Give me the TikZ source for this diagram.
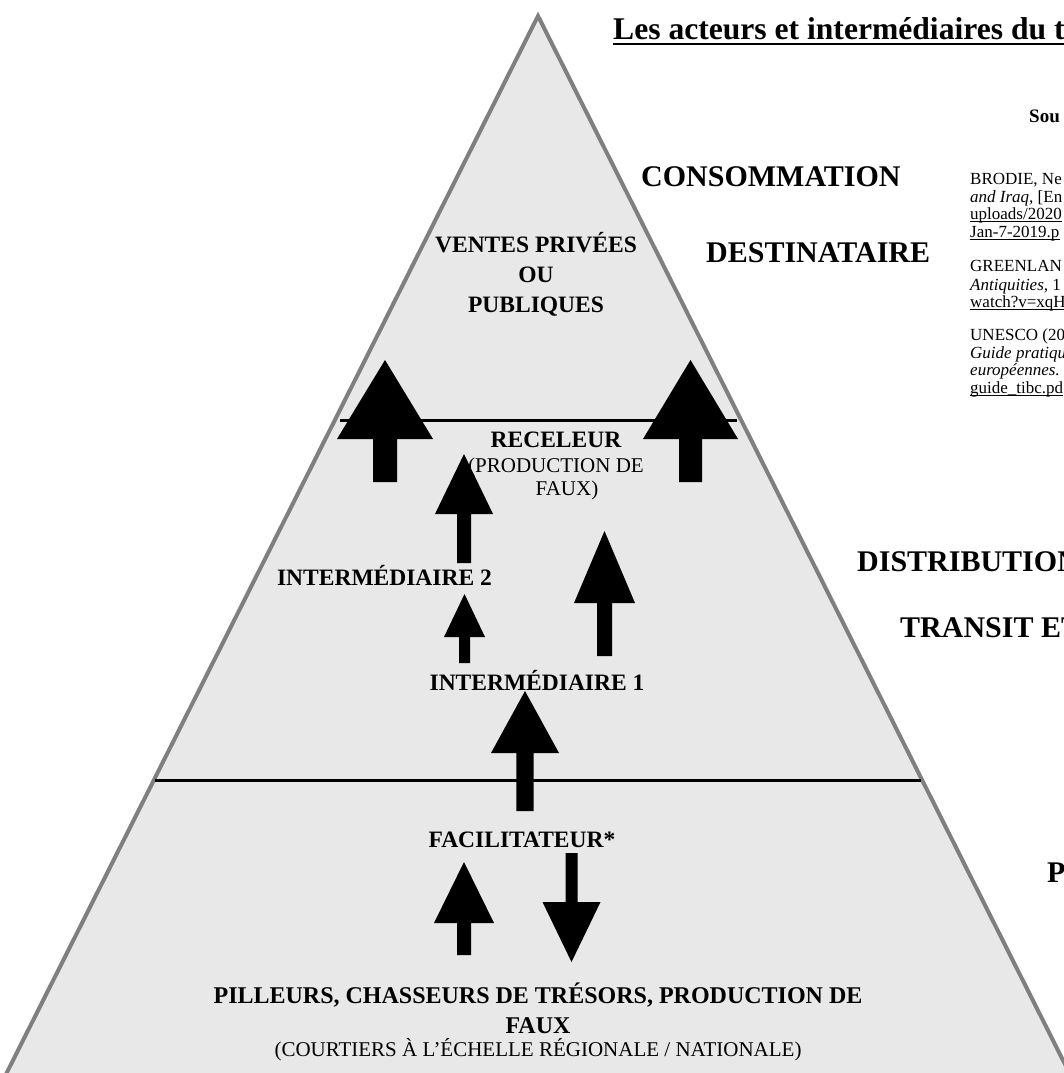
\documentclass[tikz,border=0pt]{standalone}
\usepackage{fontspec}
\setmainfont{Liberation Serif}
\definecolor{trifill}{HTML}{E8E8E8}
\definecolor{triedge}{HTML}{7F7F7F}
% block arrow: cx, tip y, head-base y, bottom y, head half width, shaft half width
\newcommand{\blockarrow}[6]{%
  \fill[blk] (#1,#2) -- ({#1+#5},#3) -- ({#1+#6},#3) -- ({#1+#6},#4) --
    ({#1-#6},#4) -- ({#1-#6},#3) -- ({#1-#5},#3) -- cycle;}
\begin{document}
\begin{tikzpicture}[x=1pt,y=-1pt,
  lbl/.style={inner sep=0pt, anchor=base, font=\fontsize{23.5}{28}\selectfont\bfseries},
  sublbl/.style={inner sep=0pt, anchor=base, font=\fontsize{21}{25}\selectfont},
  stage/.style={inner sep=0pt, anchor=base west, font=\fontsize{30}{36}\selectfont\bfseries},
  ref/.style={inner sep=0pt, anchor=base west, font=\fontsize{17}{20}\selectfont},
  tier/.style={line width=3pt, black},
  ulref/.style={line width=1pt, black},
  blk/.style={fill=black}]
\useasboundingbox (0,0) rectangle (1064,1073);
\clip (0,0) rectangle (1064,1073);
\fill[white] (0,0) rectangle (1064,1073);
% pyramid
\filldraw[fill=trifill, draw=triedge, line width=4pt] (538,16) -- (1090,1114) -- (-14,1114) -- cycle;
% tier lines
\draw[tier] (340,420) -- (737,420);
\draw[tier] (155,780) -- (921,780);
% arrows
\blockarrow{385}{360}{439}{482}{48}{12}
\blockarrow{690.5}{360}{439}{482}{47.5}{11.5}
\blockarrow{464}{454}{514}{563}{29}{7}
\blockarrow{464.5}{594}{637}{663}{20.5}{5.5}
\blockarrow{604.5}{531}{603}{656}{30.5}{7.5}
\blockarrow{525}{691}{753}{811}{34}{8.7}
\blockarrow{464}{862}{923}{955}{30}{7}
\blockarrow{571.5}{962}{902}{853}{29}{6}
% title
\node[inner sep=0pt, anchor=base west, font=\fontsize{31.6}{38}\selectfont\bfseries] (title) at (613,40) {Les acteurs et intermédiaires du t};
\draw[line width=2pt] ([yshift=-4pt]title.base west) -- ([yshift=-4pt]title.base east);
\node[inner sep=0pt, anchor=base west, font=\fontsize{19}{23}\selectfont\bfseries] (src) at (1029,122) {Sou};
% stage labels
\node[stage] (conso) at (641,186) {CONSOMMATION};
\node[stage] (dest) at (706,262) {DESTINATAIRE};
\node[stage] (distr) at (857,571) {DISTRIBUTION};
\node[stage] (transit) at (900,637) {TRANSIT ET};
\node[stage] (prod) at (1047,882) {P};
% references
\node[ref] (r1) at (970,184) {BRODIE, Ne};
\node[ref] (r2) at (970,202) {\textit{and Iraq,} [En};
\node[ref] (r3) at (970,219) {uploads/2020};
\draw[ulref] ([yshift=-2.5pt]r3.base west) -- ([yshift=-2.5pt]r3.base east);
\node[ref] (r4) at (970,237) {Jan-7-2019.p};
\draw[ulref] ([yshift=-2.5pt]r4.base west) -- ([yshift=-2.5pt]r4.base east);
\node[ref] (r5) at (970,271) {GREENLAN};
\node[ref] (r6) at (970,290) {\textit{Antiquities,} 1};
\node[ref] (r7) at (970,307) {watch?v=xqH};
\draw[ulref] ([yshift=-2.5pt]r7.base west) -- ([yshift=-2.5pt]r7.base east);
\node[ref] (r8) at (970,340) {UNESCO (20};
\node[ref] (r9) at (970,358) {\textit{Guide pratiqu}};
\node[ref] (r10) at (970,375) {\textit{européennes.}};
\node[ref] (r11) at (970,393) {guide\_tibc.pd};
\draw[ulref] ([yshift=-2.5pt]r11.base west) -- ([yshift=-2.5pt]r11.base east);
% pyramid labels
\node[lbl] (v1) at (536,252) {VENTES PRIVÉES};
\node[lbl] (v2) at (536,282) {OU};
\node[lbl] (v3) at (536,312) {PUBLIQUES};
\node[lbl] (rec) at (556,447) {RECELEUR};
\node[sublbl] (rec2) at (556,472) {(PRODUCTION DE};
\node[sublbl] (rec3) at (567,495) {FAUX)};
\node[lbl] (int2) at (384.5,585) {INTERMÉDIAIRE 2};
\node[lbl] (int1) at (537,690) {INTERMÉDIAIRE 1};
\node[lbl] (fac) at (522,847) {FACILITATEUR*};
\node[lbl, font=\fontsize{24}{28}\selectfont\bfseries] (pil1) at (538,1003) {PILLEURS, CHASSEURS DE TRÉSORS, PRODUCTION DE};
\node[lbl, font=\fontsize{24}{28}\selectfont\bfseries] (pil2) at (538,1033) {FAUX};
\node[sublbl] (pil3) at (538,1056) {(COURTIERS À L’ÉCHELLE RÉGIONALE / NATIONALE)};
\end{tikzpicture}
\end{document}
